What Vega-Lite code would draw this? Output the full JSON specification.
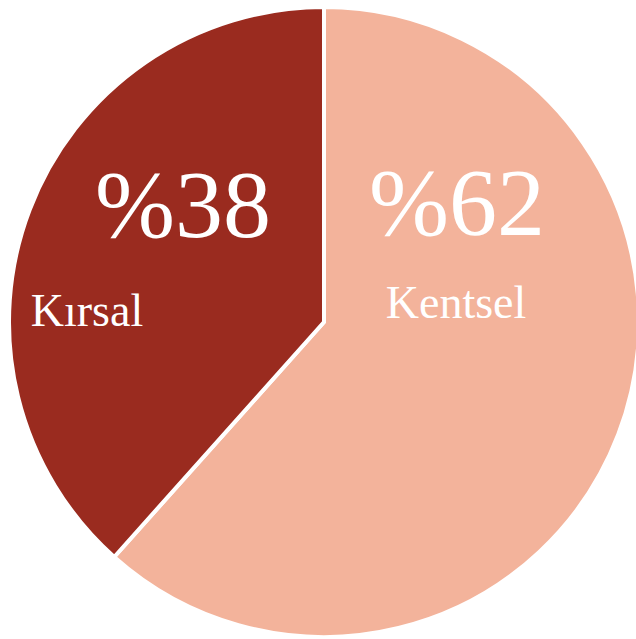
{
  "$schema": "https://vega.github.io/schema/vega-lite/v6.json",
  "autosize": {"type": "none"},
  "padding": {"left": 12, "top": 8, "right": 0, "bottom": 3},
  "width": 624,
  "height": 628,
  "background": "white",
  "view": {"stroke": null},
  "data": {"values": [
    {"area": "Kentsel", "pct": 61.6},
    {"area": "Kırsal", "pct": 38.4}
  ]},
  "transform": [{"calculate": "'%' + round(datum.pct)", "as": "label"}],
  "layer": [
    {
      "mark": {"type": "arc", "outerRadius": 315, "stroke": "white", "strokeWidth": 4},
      "encoding": {
        "theta": {"field": "pct", "type": "quantitative", "stack": true},
        "color": {"field": "area", "type": "nominal", "legend": null,
          "scale": {"domain": ["Kentsel", "Kırsal"], "range": ["#F3B39B", "#9A2B1F"]}}
      }
    },
    {
      "transform": [{"filter": "datum.area === 'Kırsal'"}],
      "mark": {"type": "text", "font": "Liberation Serif", "fontSize": 96, "color": "white", "align": "center", "baseline": "alphabetic", "dx": -141, "dy": -85},
      "encoding": {"text": {"field": "label"}}
    },
    {
      "transform": [{"filter": "datum.area === 'Kırsal'"}],
      "mark": {"type": "text", "font": "Liberation Serif", "fontSize": 46, "color": "white", "align": "center", "baseline": "alphabetic", "dx": -237, "dy": 4},
      "encoding": {"text": {"field": "area"}}
    },
    {
      "transform": [{"filter": "datum.area === 'Kentsel'"}],
      "mark": {"type": "text", "font": "Liberation Serif", "fontSize": 96, "color": "white", "align": "center", "baseline": "alphabetic", "dx": 133, "dy": -87},
      "encoding": {"text": {"field": "label"}}
    },
    {
      "transform": [{"filter": "datum.area === 'Kentsel'"}],
      "mark": {"type": "text", "font": "Liberation Serif", "fontSize": 46, "color": "white", "align": "center", "baseline": "alphabetic", "dx": 132, "dy": -4},
      "encoding": {"text": {"field": "area"}}
    }
  ]
}
